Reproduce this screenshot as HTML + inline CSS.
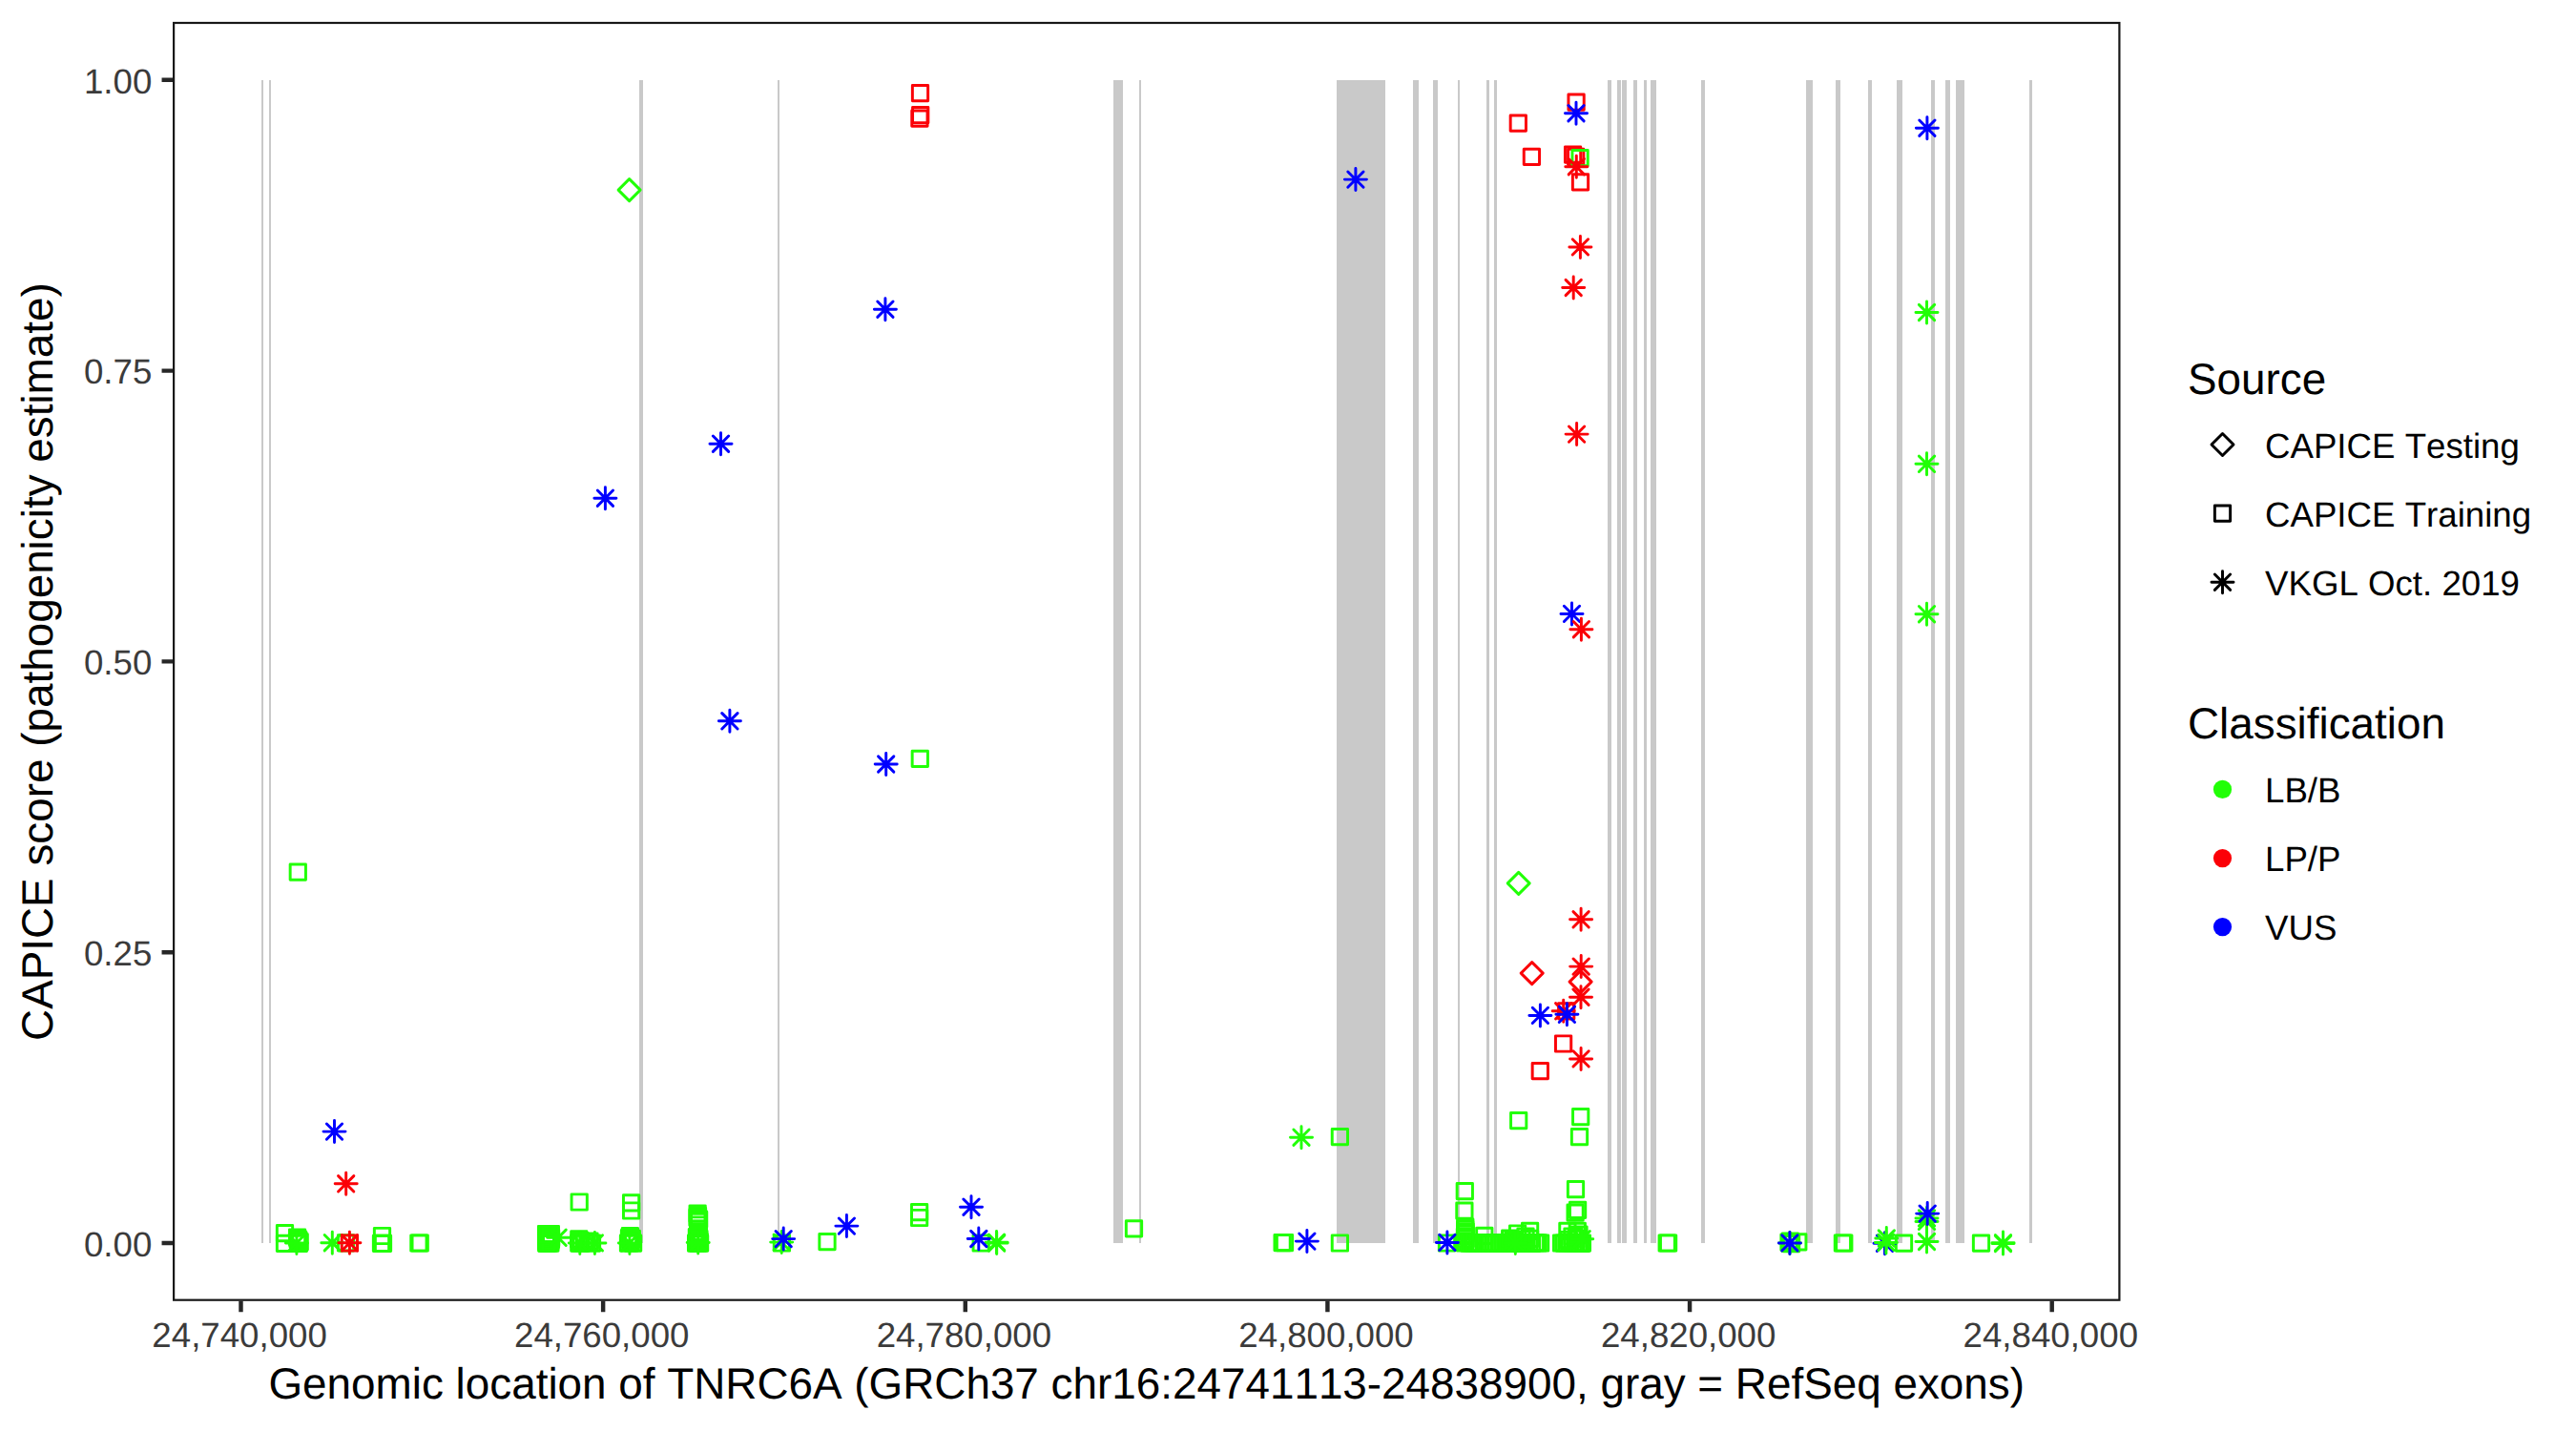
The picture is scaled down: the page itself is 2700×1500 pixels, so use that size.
<!DOCTYPE html>
<html><head><meta charset="utf-8"><title>CAPICE TNRC6A</title>
<style>html,body{margin:0;padding:0;background:#fff}svg{display:block}text{font-family:"Liberation Sans",sans-serif;font-kerning:none;font-variant-ligatures:none;text-rendering:geometricPrecision}</style></head><body>
<svg width="2700" height="1500" viewBox="0 0 2700 1500">
<rect width="2700" height="1500" fill="#fff"/>
<g fill="#C9C9C9" shape-rendering="crispEdges">
<rect x="274" y="84" width="2" height="1219"/>
<rect x="282" y="84" width="2" height="1219"/>
<rect x="670" y="84" width="4" height="1219"/>
<rect x="815" y="84" width="2" height="1219"/>
<rect x="1167" y="84" width="10" height="1219"/>
<rect x="1194" y="84" width="2" height="1219"/>
<rect x="1401" y="84" width="51" height="1219"/>
<rect x="1481" y="84" width="6" height="1219"/>
<rect x="1502" y="84" width="5" height="1219"/>
<rect x="1528" y="84" width="2" height="1219"/>
<rect x="1558" y="84" width="3" height="1219"/>
<rect x="1566" y="84" width="3" height="1219"/>
<rect x="1685" y="84" width="4" height="1219"/>
<rect x="1695" y="84" width="4" height="1219"/>
<rect x="1700" y="84" width="5" height="1219"/>
<rect x="1712" y="84" width="4" height="1219"/>
<rect x="1723" y="84" width="3" height="1219"/>
<rect x="1730" y="84" width="6" height="1219"/>
<rect x="1783" y="84" width="4" height="1219"/>
<rect x="1893" y="84" width="7" height="1219"/>
<rect x="1924" y="84" width="5" height="1219"/>
<rect x="1958" y="84" width="4" height="1219"/>
<rect x="1988" y="84" width="6" height="1219"/>
<rect x="2024" y="84" width="4" height="1219"/>
<rect x="2039" y="84" width="5" height="1219"/>
<rect x="2050" y="84" width="9" height="1219"/>
<rect x="2127" y="84" width="3" height="1219"/>
</g>
<g fill="none" stroke-width="2.95" stroke-linejoin="round" stroke-linecap="round">
<rect x="956.36" y="89.46" width="16.28" height="16.28" stroke="#FB0007"/>
<rect x="956.56" y="112.56" width="16.28" height="16.28" stroke="#FB0007"/>
<rect x="955.76" y="116.06" width="16.28" height="16.28" stroke="#FB0007"/>
<rect x="1583.16" y="121.06" width="16.28" height="16.28" stroke="#FB0007"/>
<rect x="1597.26" y="156.26" width="16.28" height="16.28" stroke="#FB0007"/>
<rect x="1643.96" y="99.06" width="16.28" height="16.28" stroke="#FB0007"/>
<rect x="1640.46" y="153.96" width="16.28" height="16.28" stroke="#FB0007"/>
<rect x="1643.56" y="156.26" width="16.28" height="16.28" stroke="#FB0007"/>
<rect x="1648.36" y="182.66" width="16.28" height="16.28" stroke="#FB0007"/>
<rect x="1633.56" y="1051.76" width="16.28" height="16.28" stroke="#FB0007"/>
<rect x="1630.46" y="1085.86" width="16.28" height="16.28" stroke="#FB0007"/>
<rect x="1606.16" y="1114.46" width="16.28" height="16.28" stroke="#FB0007"/>
<rect x="1647.96" y="157.56" width="16.28" height="16.28" stroke="#21FF06"/>
<rect x="956.16" y="787.16" width="16.28" height="16.28" stroke="#21FF06"/>
<rect x="304.16" y="905.96" width="16.28" height="16.28" stroke="#21FF06"/>
<rect x="1583.56" y="1166.56" width="16.28" height="16.28" stroke="#21FF06"/>
<rect x="1648.56" y="1162.56" width="16.28" height="16.28" stroke="#21FF06"/>
<rect x="1647.36" y="1183.56" width="16.28" height="16.28" stroke="#21FF06"/>
<rect x="1396.26" y="1183.46" width="16.28" height="16.28" stroke="#21FF06"/>
<rect x="1180.36" y="1279.66" width="16.28" height="16.28" stroke="#21FF06"/>
<rect x="599.06" y="1251.86" width="16.28" height="16.28" stroke="#21FF06"/>
<rect x="653.46" y="1252.66" width="16.28" height="16.28" stroke="#21FF06"/>
<rect x="653.46" y="1260.86" width="16.28" height="16.28" stroke="#21FF06"/>
<rect x="955.46" y="1262.46" width="16.28" height="16.28" stroke="#21FF06"/>
<rect x="955.46" y="1268.36" width="16.28" height="16.28" stroke="#21FF06"/>
<rect x="1527.16" y="1240.56" width="16.28" height="16.28" stroke="#21FF06"/>
<rect x="1526.76" y="1261.06" width="16.28" height="16.28" stroke="#21FF06"/>
<rect x="1643.36" y="1238.56" width="16.28" height="16.28" stroke="#21FF06"/>
<rect x="1645.46" y="1260.16" width="16.28" height="16.28" stroke="#21FF06"/>
<rect x="1642.96" y="1262.96" width="16.28" height="16.28" stroke="#21FF06"/>
<rect x="290.36" y="1284.46" width="16.28" height="16.28" stroke="#21FF06"/>
<rect x="290.36" y="1295.16" width="16.28" height="16.28" stroke="#21FF06"/>
<rect x="303.46" y="1288.96" width="16.28" height="16.28" stroke="#21FF06"/>
<rect x="305.26" y="1295.16" width="16.28" height="16.28" stroke="#21FF06"/>
<rect x="304.86" y="1292.06" width="16.28" height="16.28" stroke="#21FF06"/>
<rect x="304.06" y="1290.86" width="16.28" height="16.28" stroke="#21FF06"/>
<rect x="306.06" y="1293.66" width="16.28" height="16.28" stroke="#21FF06"/>
<rect x="354.36" y="1294.76" width="16.28" height="16.28" stroke="#21FF06"/>
<rect x="392.36" y="1287.36" width="16.28" height="16.28" stroke="#21FF06"/>
<rect x="391.36" y="1295.26" width="16.28" height="16.28" stroke="#21FF06"/>
<rect x="393.36" y="1295.26" width="16.28" height="16.28" stroke="#21FF06"/>
<rect x="430.76" y="1294.86" width="16.28" height="16.28" stroke="#21FF06"/>
<rect x="432.06" y="1294.86" width="16.28" height="16.28" stroke="#21FF06"/>
<rect x="564.48" y="1285.56" width="16.28" height="16.28" stroke="#21FF06"/>
<rect x="566.52" y="1285.56" width="16.28" height="16.28" stroke="#21FF06"/>
<rect x="568.95" y="1285.56" width="16.28" height="16.28" stroke="#21FF06"/>
<rect x="564.77" y="1287.26" width="16.28" height="16.28" stroke="#21FF06"/>
<rect x="566.81" y="1287.26" width="16.28" height="16.28" stroke="#21FF06"/>
<rect x="568.73" y="1287.26" width="16.28" height="16.28" stroke="#21FF06"/>
<rect x="565.02" y="1289.16" width="16.28" height="16.28" stroke="#21FF06"/>
<rect x="566.64" y="1289.16" width="16.28" height="16.28" stroke="#21FF06"/>
<rect x="569.42" y="1289.16" width="16.28" height="16.28" stroke="#21FF06"/>
<rect x="564.68" y="1291.06" width="16.28" height="16.28" stroke="#21FF06"/>
<rect x="569.35" y="1291.06" width="16.28" height="16.28" stroke="#21FF06"/>
<rect x="564.48" y="1293.06" width="16.28" height="16.28" stroke="#21FF06"/>
<rect x="566.71" y="1293.06" width="16.28" height="16.28" stroke="#21FF06"/>
<rect x="564.83" y="1294.96" width="16.28" height="16.28" stroke="#21FF06"/>
<rect x="566.76" y="1294.96" width="16.28" height="16.28" stroke="#21FF06"/>
<rect x="568.71" y="1294.96" width="16.28" height="16.28" stroke="#21FF06"/>
<rect x="564.76" y="1294.96" width="16.28" height="16.28" stroke="#21FF06"/>
<rect x="569.06" y="1285.56" width="16.28" height="16.28" stroke="#21FF06"/>
<rect x="564.76" y="1285.56" width="16.28" height="16.28" stroke="#21FF06"/>
<rect x="598.66" y="1290.66" width="16.28" height="16.28" stroke="#21FF06"/>
<rect x="598.66" y="1294.96" width="16.28" height="16.28" stroke="#21FF06"/>
<rect x="601.06" y="1294.96" width="16.28" height="16.28" stroke="#21FF06"/>
<rect x="612.36" y="1294.96" width="16.28" height="16.28" stroke="#21FF06"/>
<rect x="609.86" y="1292.86" width="16.28" height="16.28" stroke="#21FF06"/>
<rect x="604.36" y="1294.06" width="16.28" height="16.28" stroke="#21FF06"/>
<rect x="599.86" y="1292.46" width="16.28" height="16.28" stroke="#21FF06"/>
<rect x="652.26" y="1287.56" width="16.28" height="16.28" stroke="#21FF06"/>
<rect x="650.36" y="1294.96" width="16.28" height="16.28" stroke="#21FF06"/>
<rect x="652.86" y="1291.36" width="16.28" height="16.28" stroke="#21FF06"/>
<rect x="655.46" y="1294.96" width="16.28" height="16.28" stroke="#21FF06"/>
<rect x="652.86" y="1293.36" width="16.28" height="16.28" stroke="#21FF06"/>
<rect x="651.36" y="1289.46" width="16.28" height="16.28" stroke="#21FF06"/>
<rect x="654.16" y="1290.16" width="16.28" height="16.28" stroke="#21FF06"/>
<rect x="723.00" y="1263.86" width="16.28" height="16.28" stroke="#21FF06"/>
<rect x="723.35" y="1266.36" width="16.28" height="16.28" stroke="#21FF06"/>
<rect x="724.49" y="1270.06" width="16.28" height="16.28" stroke="#21FF06"/>
<rect x="723.89" y="1272.16" width="16.28" height="16.28" stroke="#21FF06"/>
<rect x="723.61" y="1275.86" width="16.28" height="16.28" stroke="#21FF06"/>
<rect x="724.27" y="1279.86" width="16.28" height="16.28" stroke="#21FF06"/>
<rect x="723.95" y="1283.36" width="16.28" height="16.28" stroke="#21FF06"/>
<rect x="723.58" y="1286.86" width="16.28" height="16.28" stroke="#21FF06"/>
<rect x="724.77" y="1290.36" width="16.28" height="16.28" stroke="#21FF06"/>
<rect x="724.54" y="1292.86" width="16.28" height="16.28" stroke="#21FF06"/>
<rect x="723.45" y="1294.96" width="16.28" height="16.28" stroke="#21FF06"/>
<rect x="721.46" y="1294.96" width="16.28" height="16.28" stroke="#21FF06"/>
<rect x="725.46" y="1294.96" width="16.28" height="16.28" stroke="#21FF06"/>
<rect x="723.36" y="1291.36" width="16.28" height="16.28" stroke="#21FF06"/>
<rect x="722.26" y="1288.36" width="16.28" height="16.28" stroke="#21FF06"/>
<rect x="724.86" y="1293.36" width="16.28" height="16.28" stroke="#21FF06"/>
<rect x="722.86" y="1268.16" width="16.28" height="16.28" stroke="#21FF06"/>
<rect x="811.26" y="1294.86" width="16.28" height="16.28" stroke="#21FF06"/>
<rect x="858.86" y="1293.46" width="16.28" height="16.28" stroke="#21FF06"/>
<rect x="1020.06" y="1294.86" width="16.28" height="16.28" stroke="#21FF06"/>
<rect x="1335.96" y="1294.56" width="16.28" height="16.28" stroke="#21FF06"/>
<rect x="1338.36" y="1294.56" width="16.28" height="16.28" stroke="#21FF06"/>
<rect x="1396.26" y="1294.86" width="16.28" height="16.28" stroke="#21FF06"/>
<rect x="1508.36" y="1294.86" width="16.28" height="16.28" stroke="#21FF06"/>
<rect x="1527.65" y="1278.06" width="16.28" height="16.28" stroke="#21FF06"/>
<rect x="1527.59" y="1280.36" width="16.28" height="16.28" stroke="#21FF06"/>
<rect x="1528.01" y="1282.86" width="16.28" height="16.28" stroke="#21FF06"/>
<rect x="1527.84" y="1285.36" width="16.28" height="16.28" stroke="#21FF06"/>
<rect x="1527.31" y="1287.86" width="16.28" height="16.28" stroke="#21FF06"/>
<rect x="1528.14" y="1290.36" width="16.28" height="16.28" stroke="#21FF06"/>
<rect x="1527.10" y="1292.86" width="16.28" height="16.28" stroke="#21FF06"/>
<rect x="1527.46" y="1294.86" width="16.28" height="16.28" stroke="#21FF06"/>
<rect x="1547.66" y="1287.16" width="16.28" height="16.28" stroke="#21FF06"/>
<rect x="1531.86" y="1295.07" width="16.28" height="16.28" stroke="#21FF06"/>
<rect x="1534.47" y="1294.85" width="16.28" height="16.28" stroke="#21FF06"/>
<rect x="1536.93" y="1294.99" width="16.28" height="16.28" stroke="#21FF06"/>
<rect x="1540.40" y="1294.92" width="16.28" height="16.28" stroke="#21FF06"/>
<rect x="1544.02" y="1294.71" width="16.28" height="16.28" stroke="#21FF06"/>
<rect x="1547.40" y="1294.94" width="16.28" height="16.28" stroke="#21FF06"/>
<rect x="1550.61" y="1294.82" width="16.28" height="16.28" stroke="#21FF06"/>
<rect x="1554.18" y="1295.22" width="16.28" height="16.28" stroke="#21FF06"/>
<rect x="1557.25" y="1294.99" width="16.28" height="16.28" stroke="#21FF06"/>
<rect x="1559.73" y="1295.02" width="16.28" height="16.28" stroke="#21FF06"/>
<rect x="1563.04" y="1295.25" width="16.28" height="16.28" stroke="#21FF06"/>
<rect x="1566.59" y="1294.69" width="16.28" height="16.28" stroke="#21FF06"/>
<rect x="1569.53" y="1294.99" width="16.28" height="16.28" stroke="#21FF06"/>
<rect x="1571.96" y="1294.83" width="16.28" height="16.28" stroke="#21FF06"/>
<rect x="1574.60" y="1294.55" width="16.28" height="16.28" stroke="#21FF06"/>
<rect x="1577.08" y="1295.07" width="16.28" height="16.28" stroke="#21FF06"/>
<rect x="1579.66" y="1294.66" width="16.28" height="16.28" stroke="#21FF06"/>
<rect x="1582.61" y="1295.16" width="16.28" height="16.28" stroke="#21FF06"/>
<rect x="1585.12" y="1294.82" width="16.28" height="16.28" stroke="#21FF06"/>
<rect x="1588.29" y="1295.17" width="16.28" height="16.28" stroke="#21FF06"/>
<rect x="1591.84" y="1295.15" width="16.28" height="16.28" stroke="#21FF06"/>
<rect x="1594.63" y="1294.79" width="16.28" height="16.28" stroke="#21FF06"/>
<rect x="1597.53" y="1295.17" width="16.28" height="16.28" stroke="#21FF06"/>
<rect x="1601.27" y="1294.58" width="16.28" height="16.28" stroke="#21FF06"/>
<rect x="1603.92" y="1294.65" width="16.28" height="16.28" stroke="#21FF06"/>
<rect x="1606.46" y="1294.86" width="16.28" height="16.28" stroke="#21FF06"/>
<rect x="1574.56" y="1289.96" width="16.28" height="16.28" stroke="#21FF06"/>
<rect x="1582.46" y="1284.86" width="16.28" height="16.28" stroke="#21FF06"/>
<rect x="1595.46" y="1282.16" width="16.28" height="16.28" stroke="#21FF06"/>
<rect x="1595.46" y="1290.16" width="16.28" height="16.28" stroke="#21FF06"/>
<rect x="1577.86" y="1291.86" width="16.28" height="16.28" stroke="#21FF06"/>
<rect x="1586.86" y="1290.86" width="16.28" height="16.28" stroke="#21FF06"/>
<rect x="1590.86" y="1287.86" width="16.28" height="16.28" stroke="#21FF06"/>
<rect x="1628.46" y="1294.85" width="16.28" height="16.28" stroke="#21FF06"/>
<rect x="1631.36" y="1294.93" width="16.28" height="16.28" stroke="#21FF06"/>
<rect x="1634.36" y="1294.67" width="16.28" height="16.28" stroke="#21FF06"/>
<rect x="1637.36" y="1294.46" width="16.28" height="16.28" stroke="#21FF06"/>
<rect x="1640.36" y="1294.80" width="16.28" height="16.28" stroke="#21FF06"/>
<rect x="1643.36" y="1294.76" width="16.28" height="16.28" stroke="#21FF06"/>
<rect x="1646.36" y="1294.91" width="16.28" height="16.28" stroke="#21FF06"/>
<rect x="1648.86" y="1295.22" width="16.28" height="16.28" stroke="#21FF06"/>
<rect x="1650.26" y="1295.01" width="16.28" height="16.28" stroke="#21FF06"/>
<rect x="1634.76" y="1282.16" width="16.28" height="16.28" stroke="#21FF06"/>
<rect x="1645.16" y="1282.16" width="16.28" height="16.28" stroke="#21FF06"/>
<rect x="1639.86" y="1287.86" width="16.28" height="16.28" stroke="#21FF06"/>
<rect x="1643.86" y="1290.36" width="16.28" height="16.28" stroke="#21FF06"/>
<rect x="1635.86" y="1291.36" width="16.28" height="16.28" stroke="#21FF06"/>
<rect x="1646.86" y="1285.86" width="16.28" height="16.28" stroke="#21FF06"/>
<rect x="1739.06" y="1294.86" width="16.28" height="16.28" stroke="#21FF06"/>
<rect x="1740.46" y="1294.86" width="16.28" height="16.28" stroke="#21FF06"/>
<rect x="1868.06" y="1294.86" width="16.28" height="16.28" stroke="#21FF06"/>
<rect x="1866.86" y="1294.06" width="16.28" height="16.28" stroke="#21FF06"/>
<rect x="1869.46" y="1295.46" width="16.28" height="16.28" stroke="#21FF06"/>
<rect x="1868.26" y="1292.86" width="16.28" height="16.28" stroke="#21FF06"/>
<rect x="1876.66" y="1293.66" width="16.28" height="16.28" stroke="#21FF06"/>
<rect x="1923.26" y="1294.86" width="16.28" height="16.28" stroke="#21FF06"/>
<rect x="1924.66" y="1294.86" width="16.28" height="16.28" stroke="#21FF06"/>
<rect x="1987.36" y="1295.06" width="16.28" height="16.28" stroke="#21FF06"/>
<rect x="2068.36" y="1295.06" width="16.28" height="16.28" stroke="#21FF06"/>
<rect x="358.26" y="1294.86" width="16.28" height="16.28" stroke="#FB0007"/>
<path d="M648.09 199.10L659.60 210.61L671.11 199.10L659.60 187.59Z" stroke="#21FF06"/>
<path d="M1580.19 925.90L1591.70 937.41L1603.21 925.90L1591.70 914.39Z" stroke="#21FF06"/>
<path d="M1594.19 1020.10L1605.70 1031.61L1617.21 1020.10L1605.70 1008.59Z" stroke="#FB0007"/>
<path d="M1645.09 1029.10L1656.60 1040.61L1668.11 1029.10L1656.60 1017.59Z" stroke="#FB0007"/>
<path d="M302.76 1294.76L319.04 1311.04M302.76 1311.04L319.04 1294.76M299.39 1302.90H322.41M310.90 1291.39V1314.41" stroke="#21FF06"/>
<path d="M340.16 1294.56L356.44 1310.84M340.16 1310.84L356.44 1294.56M336.79 1302.70H359.81M348.30 1291.19V1314.21" stroke="#21FF06"/>
<path d="M576.96 1289.16L593.24 1305.44M576.96 1305.44L593.24 1289.16M573.59 1297.30H596.61M585.10 1285.79V1308.81" stroke="#21FF06"/>
<path d="M599.66 1294.76L615.94 1311.04M599.66 1311.04L615.94 1294.76M596.29 1302.90H619.31M607.80 1291.39V1314.41" stroke="#21FF06"/>
<path d="M615.26 1294.76L631.54 1311.04M615.26 1311.04L631.54 1294.76M611.89 1302.90H634.91M623.40 1291.39V1314.41" stroke="#21FF06"/>
<path d="M651.76 1294.76L668.04 1311.04M651.76 1311.04L668.04 1294.76M648.39 1302.90H671.41M659.90 1291.39V1314.41" stroke="#21FF06"/>
<path d="M723.56 1294.36L739.84 1310.64M723.56 1310.64L739.84 1294.36M720.19 1302.50H743.21M731.70 1290.99V1314.01" stroke="#21FF06"/>
<path d="M811.06 1293.96L827.34 1310.24M811.06 1310.24L827.34 1293.96M807.69 1302.10H830.71M819.20 1290.59V1313.61" stroke="#21FF06"/>
<path d="M1036.36 1293.96L1052.64 1310.24M1036.36 1310.24L1052.64 1293.96M1032.99 1302.10H1056.01M1044.50 1290.59V1313.61" stroke="#21FF06"/>
<path d="M1036.56 1294.86L1052.84 1311.14M1036.56 1311.14L1052.84 1294.86M1033.19 1303.00H1056.21M1044.70 1291.49V1314.51" stroke="#21FF06"/>
<path d="M1867.86 1294.86L1884.14 1311.14M1867.86 1311.14L1884.14 1294.86M1864.49 1303.00H1887.51M1876.00 1291.49V1314.51" stroke="#21FF06"/>
<path d="M1580.16 1294.76L1596.44 1311.04M1580.16 1311.04L1596.44 1294.76M1576.79 1302.90H1599.81M1588.30 1291.39V1314.41" stroke="#21FF06"/>
<path d="M1650.06 1290.56L1666.34 1306.84M1650.06 1306.84L1666.34 1290.56M1646.69 1298.70H1669.71M1658.20 1287.19V1310.21" stroke="#21FF06"/>
<path d="M2011.36 1268.76L2027.64 1285.04M2011.36 1285.04L2027.64 1268.76M2007.99 1276.90H2031.01M2019.50 1265.39V1288.41" stroke="#21FF06"/>
<path d="M2011.36 1272.26L2027.64 1288.54M2011.36 1288.54L2027.64 1272.26M2007.99 1280.40H2031.01M2019.50 1268.89V1291.91" stroke="#21FF06"/>
<path d="M2011.36 1293.36L2027.64 1309.64M2011.36 1309.64L2027.64 1293.36M2007.99 1301.50H2031.01M2019.50 1289.99V1313.01" stroke="#21FF06"/>
<path d="M2091.36 1294.46L2107.64 1310.74M2091.36 1310.74L2107.64 1294.46M2087.99 1302.60H2111.01M2099.50 1291.09V1314.11" stroke="#21FF06"/>
<path d="M2091.36 1295.46L2107.64 1311.74M2091.36 1311.74L2107.64 1295.46M2087.99 1303.60H2111.01M2099.50 1292.09V1315.11" stroke="#21FF06"/>
<path d="M2011.36 319.36L2027.64 335.64M2011.36 335.64L2027.64 319.36M2007.99 327.50H2031.01M2019.50 315.99V339.01" stroke="#21FF06"/>
<path d="M2011.36 478.16L2027.64 494.44M2011.36 494.44L2027.64 478.16M2007.99 486.30H2031.01M2019.50 474.79V497.81" stroke="#21FF06"/>
<path d="M2011.36 635.56L2027.64 651.84M2011.36 651.84L2027.64 635.56M2007.99 643.70H2031.01M2019.50 632.19V655.21" stroke="#21FF06"/>
<path d="M1355.86 1184.06L1372.14 1200.34M1355.86 1200.34L1372.14 1184.06M1352.49 1192.20H1375.51M1364.00 1180.69V1203.71" stroke="#21FF06"/>
<path d="M919.76 316.06L936.04 332.34M919.76 332.34L936.04 316.06M916.39 324.20H939.41M927.90 312.69V335.71" stroke="#0000FF"/>
<path d="M747.36 457.06L763.64 473.34M747.36 473.34L763.64 457.06M743.99 465.20H767.01M755.50 453.69V476.71" stroke="#0000FF"/>
<path d="M626.26 514.06L642.54 530.34M626.26 530.34L642.54 514.06M622.89 522.20H645.91M634.40 510.69V533.71" stroke="#0000FF"/>
<path d="M756.76 747.66L773.04 763.94M756.76 763.94L773.04 747.66M753.39 755.80H776.41M764.90 744.29V767.31" stroke="#0000FF"/>
<path d="M920.56 792.86L936.84 809.14M920.56 809.14L936.84 792.86M917.19 801.00H940.21M928.70 789.49V812.51" stroke="#0000FF"/>
<path d="M342.36 1177.96L358.64 1194.24M342.36 1194.24L358.64 1177.96M338.99 1186.10H362.01M350.50 1174.59V1197.61" stroke="#0000FF"/>
<path d="M1412.76 179.96L1429.04 196.24M1412.76 196.24L1429.04 179.96M1409.39 188.10H1432.41M1420.90 176.59V199.61" stroke="#0000FF"/>
<path d="M1643.86 110.56L1660.14 126.84M1643.86 126.84L1660.14 110.56M1640.49 118.70H1663.51M1652.00 107.19V130.21" stroke="#0000FF"/>
<path d="M2011.76 126.06L2028.04 142.34M2011.76 142.34L2028.04 126.06M2008.39 134.20H2031.41M2019.90 122.69V145.71" stroke="#0000FF"/>
<path d="M1639.36 635.26L1655.64 651.54M1639.36 651.54L1655.64 635.26M1635.99 643.40H1659.01M1647.50 631.89V654.91" stroke="#0000FF"/>
<path d="M1606.26 1056.26L1622.54 1072.54M1606.26 1072.54L1622.54 1056.26M1602.89 1064.40H1625.91M1614.40 1052.89V1075.91" stroke="#0000FF"/>
<path d="M813.06 1290.46L829.34 1306.74M813.06 1306.74L829.34 1290.46M809.69 1298.60H832.71M821.20 1287.09V1310.11" stroke="#0000FF"/>
<path d="M879.26 1276.96L895.54 1293.24M879.26 1293.24L895.54 1276.96M875.89 1285.10H898.91M887.40 1273.59V1296.61" stroke="#0000FF"/>
<path d="M1009.86 1257.06L1026.14 1273.34M1009.86 1273.34L1026.14 1257.06M1006.49 1265.20H1029.51M1018.00 1253.69V1276.71" stroke="#0000FF"/>
<path d="M1017.66 1290.36L1033.94 1306.64M1017.66 1306.64L1033.94 1290.36M1014.29 1298.50H1037.31M1025.80 1286.99V1310.01" stroke="#0000FF"/>
<path d="M1361.76 1292.96L1378.04 1309.24M1361.76 1309.24L1378.04 1292.96M1358.39 1301.10H1381.41M1369.90 1289.59V1312.61" stroke="#0000FF"/>
<path d="M1508.76 1294.26L1525.04 1310.54M1508.76 1310.54L1525.04 1294.26M1505.39 1302.40H1528.41M1516.90 1290.89V1313.91" stroke="#0000FF"/>
<path d="M1867.76 1294.76L1884.04 1311.04M1867.76 1311.04L1884.04 1294.76M1864.39 1302.90H1887.41M1875.90 1291.39V1314.41" stroke="#0000FF"/>
<path d="M1967.36 1295.06L1983.64 1311.34M1967.36 1311.34L1983.64 1295.06M1963.99 1303.20H1987.01M1975.50 1291.69V1314.71" stroke="#0000FF"/>
<path d="M2012.06 1263.96L2028.34 1280.24M2012.06 1280.24L2028.34 1263.96M2008.69 1272.10H2031.71M2020.20 1260.59V1283.61" stroke="#0000FF"/>
<path d="M1969.16 1289.86L1985.44 1306.14M1969.16 1306.14L1985.44 1289.86M1965.79 1298.00H1988.81M1977.30 1286.49V1309.51" stroke="#21FF06"/>
<path d="M1968.76 1294.26L1985.04 1310.54M1968.76 1310.54L1985.04 1294.26M1965.39 1302.40H1988.41M1976.90 1290.89V1313.91" stroke="#21FF06"/>
<path d="M354.56 1232.66L370.84 1248.94M354.56 1248.94L370.84 1232.66M351.19 1240.80H374.21M362.70 1229.29V1252.31" stroke="#FB0007"/>
<path d="M358.26 1294.66L374.54 1310.94M358.26 1310.94L374.54 1294.66M354.89 1302.80H377.91M366.40 1291.29V1314.31" stroke="#FB0007"/>
<path d="M1644.16 166.56L1660.44 182.84M1644.16 182.84L1660.44 166.56M1640.79 174.70H1663.81M1652.30 163.19V186.21" stroke="#FB0007"/>
<path d="M1648.26 250.76L1664.54 267.04M1648.26 267.04L1664.54 250.76M1644.89 258.90H1667.91M1656.40 247.39V270.41" stroke="#FB0007"/>
<path d="M1641.06 293.36L1657.34 309.64M1641.06 309.64L1657.34 293.36M1637.69 301.50H1660.71M1649.20 289.99V313.01" stroke="#FB0007"/>
<path d="M1644.46 446.96L1660.74 463.24M1644.46 463.24L1660.74 446.96M1641.09 455.10H1664.11M1652.60 443.59V466.61" stroke="#FB0007"/>
<path d="M1649.26 651.56L1665.54 667.84M1649.26 667.84L1665.54 651.56M1645.89 659.70H1668.91M1657.40 648.19V671.21" stroke="#FB0007"/>
<path d="M1648.96 955.66L1665.24 971.94M1648.96 971.94L1665.24 955.66M1645.59 963.80H1668.61M1657.10 952.29V975.31" stroke="#FB0007"/>
<path d="M1649.06 1004.96L1665.34 1021.24M1649.06 1021.24L1665.34 1004.96M1645.69 1013.10H1668.71M1657.20 1001.59V1024.61" stroke="#FB0007"/>
<path d="M1648.86 1037.06L1665.14 1053.34M1648.86 1053.34L1665.14 1037.06M1645.49 1045.20H1668.51M1657.00 1033.69V1056.71" stroke="#FB0007"/>
<path d="M1630.56 1051.66L1646.84 1067.94M1630.56 1067.94L1646.84 1051.66M1627.19 1059.80H1650.21M1638.70 1048.29V1071.31" stroke="#FB0007"/>
<path d="M1648.96 1101.76L1665.24 1118.04M1648.96 1118.04L1665.24 1101.76M1645.59 1109.90H1668.61M1657.10 1098.39V1121.41" stroke="#FB0007"/>
<path d="M1634.26 1055.16L1650.54 1071.44M1634.26 1071.44L1650.54 1055.16M1630.89 1063.30H1653.91M1642.40 1051.79V1074.81" stroke="#0000FF"/>
</g>
<rect x="182.10" y="24.00" width="2039.30" height="1338.70" fill="none" stroke="#181818" stroke-width="2.2"/>
<path d="M252.50 1363.8v11.46M632.14 1363.8v11.46M1011.78 1363.8v11.46M1391.42 1363.8v11.46M1771.06 1363.8v11.46M2150.70 1363.8v11.46M181.0 1303.00h-11.46M181.0 998.20h-11.46M181.0 693.40h-11.46M181.0 388.60h-11.46M181.0 83.80h-11.46" stroke="#272727" stroke-width="4.44" fill="none"/>
<g font-size="36.67" fill="#3B3B3B">
<text x="251.10" y="1411.8" text-anchor="middle">24,740,000</text>
<text x="630.74" y="1411.8" text-anchor="middle">24,760,000</text>
<text x="1010.38" y="1411.8" text-anchor="middle">24,780,000</text>
<text x="1390.02" y="1411.8" text-anchor="middle">24,800,000</text>
<text x="1769.66" y="1411.8" text-anchor="middle">24,820,000</text>
<text x="2149.30" y="1411.8" text-anchor="middle">24,840,000</text>
<text x="159.3" y="1316.80" text-anchor="end">0.00</text>
<text x="159.3" y="1012.00" text-anchor="end">0.25</text>
<text x="159.3" y="707.20" text-anchor="end">0.50</text>
<text x="159.3" y="402.40" text-anchor="end">0.75</text>
<text x="159.3" y="97.60" text-anchor="end">1.00</text>
</g>
<g font-size="45.83" fill="#000">
<text x="1201.75" y="1466.2" text-anchor="middle">Genomic location of TNRC6A (GRCh37 chr16:24741113-24838900, gray = RefSeq exons)</text>
<text transform="translate(55.2 693.6) rotate(-90)" text-anchor="middle">CAPICE score (pathogenicity estimate)</text>
<text x="2293" y="412.9">Source</text>
<text x="2293" y="774">Classification</text>
</g>
<g fill="none" stroke="#000" stroke-width="2.95" stroke-linejoin="round" stroke-linecap="round">
<path d="M2317.99 466.00L2329.50 477.51L2341.01 466.00L2329.50 454.49Z" stroke="#000"/>
<rect x="2321.36" y="530.06" width="16.28" height="16.28" stroke="#000"/>
<path d="M2321.36 602.06L2337.64 618.34M2321.36 618.34L2337.64 602.06M2317.99 610.20H2341.01M2329.50 598.69V621.71" stroke="#000"/>
</g>
<circle cx="2329.5" cy="827.4" r="9.6" fill="#21FF06"/>
<circle cx="2329.5" cy="899.6" r="9.6" fill="#FB0007"/>
<circle cx="2329.5" cy="971.6" r="9.6" fill="#0000FF"/>
<g font-size="36.67" fill="#000">
<text x="2374" y="479.50">CAPICE Testing</text>
<text x="2374" y="551.70">CAPICE Training</text>
<text x="2374" y="623.70">VKGL Oct. 2019</text>
<text x="2374" y="840.90">LB/B</text>
<text x="2374" y="913.10">LP/P</text>
<text x="2374" y="985.10">VUS</text>
</g>
</svg></body></html>
